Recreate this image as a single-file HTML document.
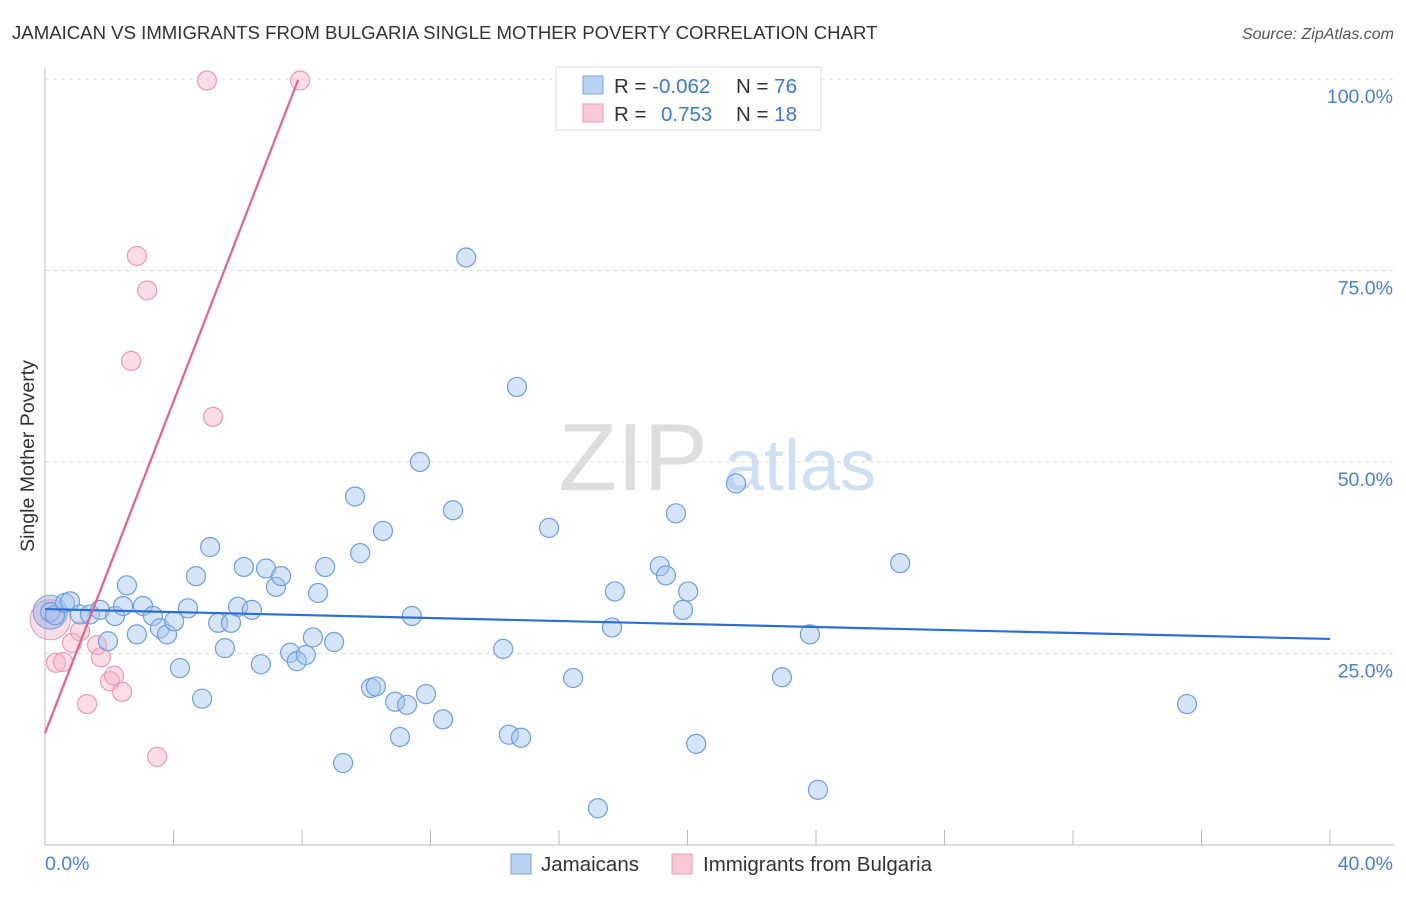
<!DOCTYPE html>
<html><head><meta charset="utf-8"><style>
body{margin:0;background:#fff;font-family:"Liberation Sans",sans-serif;}
svg text{font-family:"Liberation Sans",sans-serif;}
</style></head><body>
<svg id="chart" width="1406" height="892" viewBox="0 0 1406 892">
<text x="12" y="39" font-size="18.6" fill="#333">JAMAICAN VS IMMIGRANTS FROM BULGARIA SINGLE MOTHER POVERTY CORRELATION CHART</text>
<text x="1394" y="39" font-size="16" fill="#555" text-anchor="end" font-style="italic">Source: ZipAtlas.com</text>
<g>
<text x="633" y="490" font-size="96" fill="#ddd" font-family="Liberation Serif" text-anchor="middle">ZIP</text>
<text x="800" y="490" font-size="72" fill="#cfe0f4" text-anchor="middle">atlas</text>
</g>
<g id="grid"></g>
<g id="axes"></g>
<g id="marks"></g>
<text transform="translate(34,456) rotate(-90)" font-size="19.5" fill="#333" text-anchor="middle">Single Mother Poverty</text>
<g>
<rect x="556" y="67" width="265" height="63" fill="#fff" stroke="#ddd"/>
<rect x="583" y="76" width="20" height="18" fill="#b9d1f3" stroke="#7aa6e3"/>
<rect x="583" y="104" width="20" height="18" fill="#f9c9d7" stroke="#ee9cb5"/>
<text x="614" y="93" font-size="20.5" fill="#333">R = <tspan fill="#3b78d8">-0.062</tspan><tspan x="736">N = </tspan><tspan fill="#3b78d8">76</tspan></text>
<text x="614" y="121" font-size="20.5" fill="#333">R = <tspan fill="#3b78d8" x="661">0.753</tspan><tspan x="736">N = </tspan><tspan fill="#3b78d8">18</tspan></text>
</g>
<g>
<rect x="511" y="854" width="20" height="20" fill="#b9d1f3" stroke="#7aa6e3"/>
<text x="541" y="871" font-size="20.5" fill="#333">Jamaicans</text>
<rect x="672" y="854" width="20" height="20" fill="#f9c9d7" stroke="#ee9cb5"/>
<text x="703" y="871" font-size="20.5" fill="#333">Immigrants from Bulgaria</text>
</g>
</svg>
<script>
const xTicksPct=[0,40];
const yTicks=[25,50,75,100];
const blueX=[0.16,0.31,0.62,0.78,1.09,1.40,1.71,1.96,2.18,2.43,2.55,2.86,3.05,3.36,3.58,3.80,4.02,4.20,4.45,4.70,4.89,5.14,5.39,5.60,5.79,6.01,6.19,6.44,6.72,6.88,7.19,7.35,7.63,7.84,8.12,8.34,8.50,8.72,9.00,9.28,9.65,9.81,10.15,10.30,10.52,10.90,11.05,11.27,11.42,11.67,11.86,12.39,12.70,13.11,14.26,14.44,14.69,14.82,15.69,16.44,17.21,17.65,17.74,19.14,19.33,19.64,19.86,20.02,20.27,21.51,22.94,23.81,24.06,26.62,35.55];
const blueY=[30.4,30.0,31.6,31.8,30.1,30.1,30.7,26.6,29.9,31.2,33.9,27.5,31.2,29.9,28.3,27.5,29.2,23.1,30.9,35.1,19.1,38.9,29.0,25.7,29.0,31.1,36.3,30.7,23.6,36.1,33.7,35.1,25.1,24.0,24.8,27.1,32.9,36.3,26.5,10.7,45.5,38.1,20.5,20.7,41.0,18.7,14.1,18.3,29.9,50.0,19.7,16.4,43.7,76.7,25.6,14.4,59.8,14.0,41.4,21.8,4.8,28.4,33.1,36.4,35.2,43.3,30.7,33.1,13.2,47.2,21.9,27.5,7.2,36.8,18.4];
const pinkX=[0.34,0.56,0.84,1.09,1.31,1.62,1.74,2.02,2.15,2.40,2.68,2.86,3.18,3.49,5.23,5.04,7.94];
const pinkY=[23.8,23.9,26.4,27.9,18.4,26.1,24.5,21.4,22.1,20.0,63.2,76.9,72.4,11.5,55.9,99.8,99.8];
const blueTrendX=[0,40], blueTrendY=[30.8,26.9];
const pinkTrendX=[0,7.88], pinkTrendY=[14.6,99.9];
const NS='http://www.w3.org/2000/svg';
const X=v=>45+v/40*1285, Y=v=>845-v/100*766;
function mk(tag,attrs,parent){const e=document.createElementNS(NS,tag);for(const k in attrs)e.setAttribute(k,attrs[k]);document.getElementById(parent).appendChild(e);return e;}
yTicks.forEach(t=>{
 const l=mk('line',{x1:45,x2:1394,y1:Y(t),y2:Y(t),stroke:'#ddd','stroke-dasharray':'4,4'},'grid');
 
 
 const tx=mk('text',{x:1393,y:Y(t)+24,'font-size':19.5,fill:'#4a7fd6','text-anchor':'end'},'axes');
 tx.textContent=t.toFixed(1)+'%';
 
 
});
let a=mk('line',{x1:45,x2:45,y1:68,y2:845,stroke:'#bbb'},'axes');


a=mk('line',{x1:45,x2:1394,y1:845,y2:845,stroke:'#bbb'},'axes');


for(let i=1;i<=10;i++){const t=mk('line',{x1:X(i*4),x2:X(i*4),y1:830,y2:845,stroke:'#bbb'},'axes');
 
 }
xTicksPct.forEach((t,i)=>{const tx=mk('text',{x:i?1393:45,y:870,'font-size':19.5,fill:'#4a7fd6','text-anchor':i?'end':'start'},'axes');
 tx.textContent=t.toFixed(1)+'%';
 
 });
let big=mk('circle',{cx:X(0.16),cy:Y(29.4),r:20,fill:'rgba(230,170,200,0.4)',stroke:'#e39ab8'},'marks');


big=mk('circle',{cx:X(0.16),cy:Y(30.4),r:17,fill:'rgba(150,170,225,0.45)',stroke:'#7aa0dd'},'marks');


pinkX.forEach((v,i)=>{const c=mk('circle',{cx:X(v),cy:Y(pinkY[i]),r:9.5,fill:'rgba(246,180,202,0.45)',stroke:'#eb9ab4','stroke-width':1.2},'marks');
 
 });
blueX.forEach((v,i)=>{const c=mk('circle',{cx:X(v),cy:Y(blueY[i]),r:9.5,fill:'rgba(164,196,240,0.45)',stroke:'#6d9fe0','stroke-width':1.2},'marks');
 
 });
let tl=mk('line',{x1:X(blueTrendX[0]),y1:Y(blueTrendY[0]),x2:X(blueTrendX[1]),y2:Y(blueTrendY[1]),stroke:'#2b6fd6','stroke-width':2.2},'marks');


tl=mk('line',{x1:X(pinkTrendX[0]),y1:Y(pinkTrendY[0]),x2:X(pinkTrendX[1]),y2:Y(pinkTrendY[1]),stroke:'#e8608e','stroke-width':2.2},'marks');


</script>
</body></html>
